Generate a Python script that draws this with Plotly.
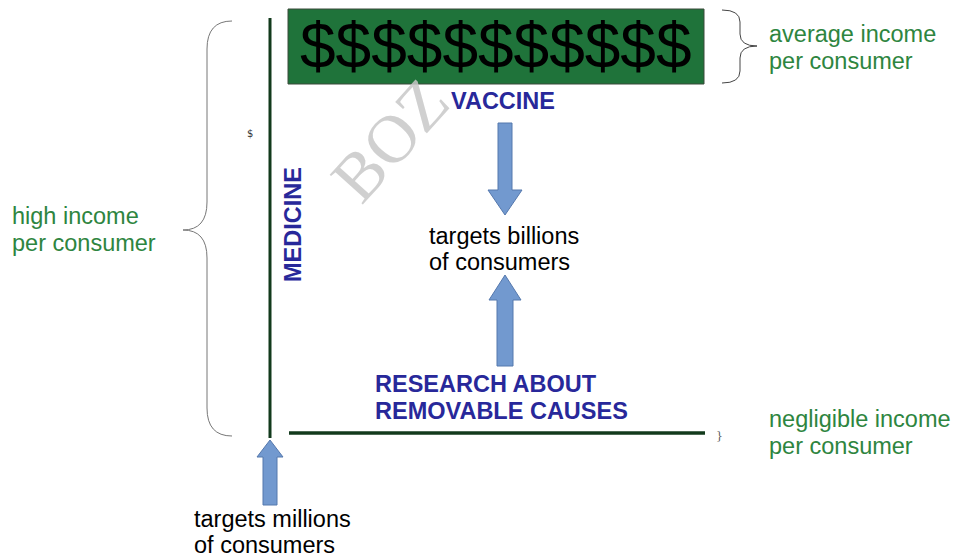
import plotly.graph_objects as go

W, H = 956, 558

# Text content
money_text = "$" * 11
high_income = ["high income", "per consumer"]
avg_income = ["average income", "per consumer"]
negl_income = ["negligible income", "per consumer"]
vaccine = "VACCINE"
medicine = "MEDICINE"
research = ["RESEARCH ABOUT", "REMOVABLE CAUSES"]
billions = ["targets billions", "of consumers"]
millions = ["targets millions", "of consumers"]
watermark = "BOZ"

GREEN_TXT = "#2e8540"
BLUE_TXT = "#28289a"
ARROW_FILL = "#7299cf"
ARROW_LINE = "#5578ad"
FONT = "Liberation Sans, Arial, sans-serif"
FS = 23.5

fig = go.Figure()
fig.add_trace(go.Scatter(x=[0, W], y=[0, H], mode="markers", marker=dict(opacity=0), hoverinfo="skip", showlegend=False))

shapes = []
shapes.append(dict(type="rect", x0=288, x1=704, y0=9, y1=84, fillcolor="#1f733a", line=dict(color="#3a4a3a", width=1)))
shapes.append(dict(type="line", x0=270, x1=270, y0=18, y1=438, line=dict(color="#123a1c", width=3)))
shapes.append(dict(type="line", x0=289, x1=705, y0=433, y1=433, line=dict(color="#123a1c", width=3.5)))

def brace_left(xe, xm, xt, y0, y1, yt):
    return (f"M {xe},{y0} Q {xm},{y0} {xm},{y0+28} L {xm},{yt-28} Q {xm},{yt} {xt},{yt} "
            f"Q {xm},{yt} {xm},{yt+28} L {xm},{y1-28} Q {xm},{y1} {xe},{y1}")

def brace_right(xe, xm, xt, y0, y1, yt, r=12):
    return (f"M {xe},{y0} Q {xm},{y0} {xm},{y0+r} L {xm},{yt-r} Q {xm},{yt} {xt},{yt} "
            f"Q {xm},{yt} {xm},{yt+r} L {xm},{y1-r} Q {xm},{y1} {xe},{y1}")

shapes.append(dict(type="path", path=brace_left(232, 207, 183, 21, 436, 230), line=dict(color="#777777", width=1)))
shapes.append(dict(type="path", path=brace_right(722, 740, 757, 10, 83, 46), line=dict(color="#444444", width=1)))

def arrow(xc, ytail, yhead, shaft_w=14, head_w=34, head_len=25):
    d = 1 if yhead > ytail else -1
    yb = yhead - d * head_len
    sw, hw = shaft_w / 2, head_w / 2
    return (f"M {xc-sw},{ytail} L {xc+sw},{ytail} L {xc+sw},{yb} L {xc+hw},{yb} L {xc},{yhead} "
            f"L {xc-hw},{yb} L {xc-sw},{yb} Z")

for p in [arrow(505, 123, 215), arrow(505, 366, 275, shaft_w=16, head_w=32), arrow(270, 505, 440, head_w=26, head_len=17)]:
    shapes.append(dict(type="path", path=p, fillcolor=ARROW_FILL, line=dict(color=ARROW_LINE, width=1)))

ann = []
def A(x, y, text, size=FS, color="black", bold=False, xanchor="center", angle=0, font=FONT):
    t = f"<b>{text}</b>" if bold else text
    ann.append(dict(x=x, y=y, text=t, showarrow=False, xanchor=xanchor, yanchor="middle",
                    textangle=angle, font=dict(family=font, size=size, color=color)))

def lines(x, ys, texts, **kw):
    for y, t in zip(ys, texts):
        A(x, y, t, **kw)

A(390, 140, watermark, size=68, color="rgba(200,200,200,0.85)", angle=-48, font="Liberation Serif, DejaVu Serif, serif")
A(496, 46, money_text, size=64, color="black")
A(503, 101, vaccine, color=BLUE_TXT, bold=True)
A(293, 225, medicine, color=BLUE_TXT, bold=True, angle=-90)
lines(373, [384, 411], research, color=BLUE_TXT, bold=True, xanchor="left")
lines(427, [236, 262], billions, xanchor="left")
lines(192, [519, 545], millions, xanchor="left")
lines(10, [216, 243], high_income, color=GREEN_TXT, xanchor="left")
lines(767, [34, 61], avg_income, color=GREEN_TXT, xanchor="left")
lines(767, [419, 446], negl_income, color=GREEN_TXT, xanchor="left")
A(250, 133, "$", size=10, color="#333333", font="DejaVu Sans, sans-serif")
A(719, 435, "}", size=11, color="#555555", font="DejaVu Serif, serif")

fig.update_layout(
    width=W, height=H, margin=dict(l=0, r=0, t=0, b=0),
    paper_bgcolor="white", plot_bgcolor="white",
    xaxis=dict(range=[0, W], visible=False, fixedrange=True),
    yaxis=dict(range=[H, 0], visible=False, fixedrange=True),
    shapes=shapes, annotations=ann, showlegend=False,
)
fig.write_html("out.html", config={"displayModeBar": False},
               post_script="document.body.style.margin='0';document.body.style.overflow='hidden';")
